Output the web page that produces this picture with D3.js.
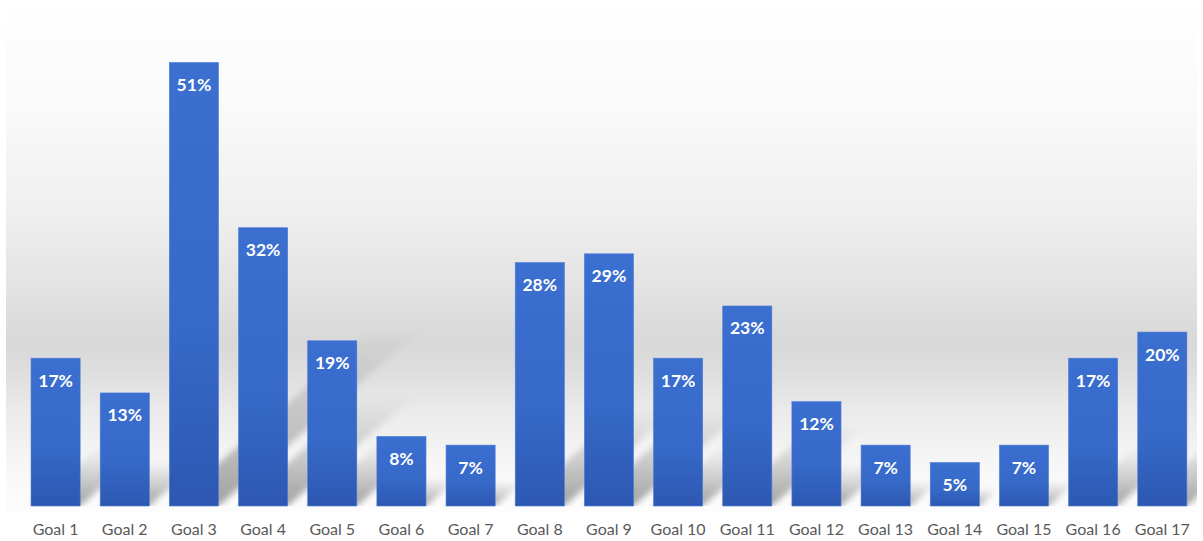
<!DOCTYPE html>
<html>
<head>
<meta charset="utf-8">
<script src="https://cdn.jsdelivr.net/npm/d3@7"></script>
<style>
  html, body { margin: 0; padding: 0; background: #ffffff; }
  svg { display: block; }
</style>
</head>
<body>
<svg id="chart" width="1203" height="541"></svg>
<script>
// Share of responses per Sustainable Development Goal
const goals = ["Goal 1", "Goal 2", "Goal 3", "Goal 4", "Goal 5", "Goal 6", "Goal 7", "Goal 8", "Goal 9",
               "Goal 10", "Goal 11", "Goal 12", "Goal 13", "Goal 14", "Goal 15", "Goal 16", "Goal 17"];
const shares = [17, 13, 51, 32, 19, 8, 7, 28, 29, 17, 23, 12, 7, 5, 7, 17, 20];

const W = 1203, H = 541;
const baseY = 506;
const svg = d3.select("#chart");
const defs = svg.append("defs");

// Backdrop: soft grey band behind the bars
const bg = defs.append("linearGradient").attr("id", "bg").attr("x1", 0).attr("y1", 0).attr("x2", 0).attr("y2", 1);
[[0, "#ffffff"], [0.2, "#fafafa"], [0.42, "#efefef"], [0.58, "#e1e1e1"], [0.67, "#d8d8d8"],
 [0.72, "#dddddd"], [0.8, "#eaeaea"], [0.9, "#f6f6f6"], [1, "#fdfdfd"]]
  .forEach(([o, c]) => bg.append("stop").attr("offset", o).attr("stop-color", c));

const barGrad = defs.append("linearGradient").attr("id", "bar").attr("x1", 0).attr("y1", 0).attr("x2", 0).attr("y2", 1);
[[0, "#3b6fd0"], [0.6, "#3669c8"], [1, "#2d58b2"]]
  .forEach(([o, c]) => barGrad.append("stop").attr("offset", o).attr("stop-color", c));

const shGrad = defs.append("linearGradient").attr("id", "sh").attr("x1", 0).attr("y1", 1).attr("x2", 0).attr("y2", 0);
[[0, "#000", 0.36], [0.45, "#000", 0.18], [1, "#000", 0]]
  .forEach(([o, c, a]) => shGrad.append("stop").attr("offset", o).attr("stop-color", c).attr("stop-opacity", a));

defs.append("filter").attr("id", "blur").attr("x", "-20%").attr("y", "-20%").attr("width", "140%").attr("height", "140%")
  .append("feGaussianBlur").attr("stdDeviation", 3);

defs.append("clipPath").attr("id", "plotClip")
  .append("rect").attr("x", 6).attr("y", 0).attr("width", 1191).attr("height", baseY);

svg.append("rect").attr("x", 6).attr("y", 0).attr("width", 1191).attr("height", 512).attr("fill", "url(#bg)");

const x = d3.scaleBand().domain(goals).range([21, 1196.9]).paddingInner(0.29).paddingOuter(0.145);
const y = d3.scaleLinear().domain([0, 55]).range([baseY, baseY - 55 * 8.696]);

const rows = goals.map((g, i) => ({ goal: g, v: shares[i] }));

// Perspective shadows cast up and to the right
const kx = 0.46, ky = 0.4;
svg.append("g").attr("clip-path", "url(#plotClip)")
  .selectAll("path").data(rows).join("path")
  .attr("d", d => {
    const x0 = x(d.goal), x1 = x0 + x.bandwidth();
    const h = baseY - y(d.v);
    const dx = h * kx, dy = h * ky;
    return `M${x0},${baseY}L${x1},${baseY}L${x1 + dx},${baseY - dy}L${x0 + dx},${baseY - dy}Z`;
  })
  .attr("fill", "url(#sh)")
  .attr("filter", "url(#blur)");

svg.append("g").selectAll("rect").data(rows).join("rect")
  .attr("x", d => x(d.goal))
  .attr("y", d => y(d.v))
  .attr("width", x.bandwidth())
  .attr("height", d => baseY - y(d.v))
  .attr("fill", "url(#bar)")
  .attr("stroke", "#4a7ad6")
  .attr("stroke-width", 0.6);

svg.append("g").selectAll("text").data(rows).join("text")
  .attr("x", d => x(d.goal) + x.bandwidth() / 2)
  .attr("y", d => y(d.v) + 28.5)
  .attr("text-anchor", "middle")
  .attr("font-family", "Lato, 'Open Sans', sans-serif")
  .attr("font-weight", 700)
  .attr("font-size", 17.5)
  .attr("fill", "#ffffff")
  .text(d => d.v + "%");

const xAxis = d3.axisBottom(x).tickSize(0).tickPadding(0);
const ax = svg.append("g").attr("transform", `translate(0,${baseY})`).call(xAxis);
ax.select(".domain").remove();
ax.selectAll("text")
  .attr("y", 28.5)
  .attr("dy", 0)
  .attr("font-family", "Lato, 'Open Sans', sans-serif")
  .attr("font-size", 16)
  .attr("fill", "#595959");
</script>
</body>
</html>
